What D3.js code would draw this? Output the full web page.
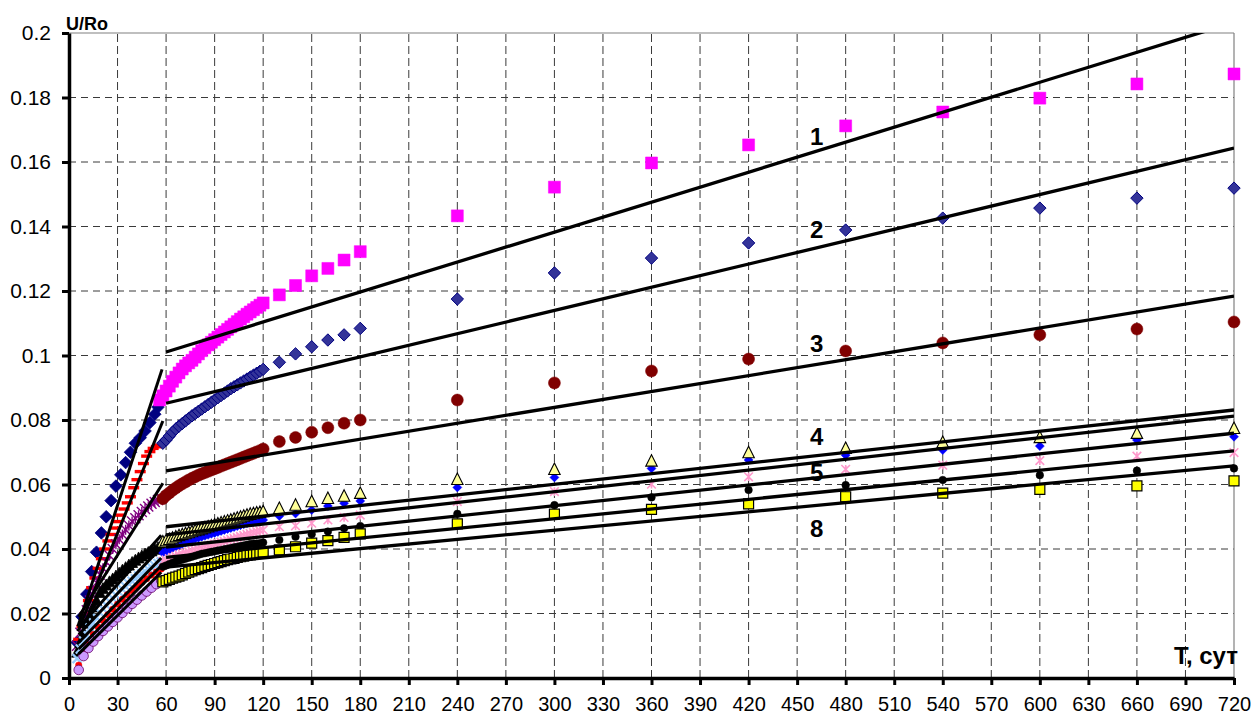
<!DOCTYPE html>
<html>
<head>
<meta charset="utf-8">
<script src="https://cdn.jsdelivr.net/npm/d3@7/dist/d3.min.js"></script>
<style>
  html, body { margin: 0; padding: 0; background: #fff; }
  svg text { font-family: "Liberation Sans", Arial, sans-serif; fill: #000; }
</style>
</head>
<body>
<svg id="chart" width="1254" height="716"></svg>
<script>
// ---- axis ticks ----
const xTicks = d3.range(0, 721, 30);
const yTicks = [0, 0.02, 0.04, 0.06, 0.08, 0.1, 0.12, 0.14, 0.16, 0.18, 0.2];
const yTickLabels = ["0", "0.02", "0.04", "0.06", "0.08", "0.1", "0.12", "0.14", "0.16", "0.18", "0.2"];

// ---- measurement days ----
const daysDenseM = [56,58,60,62,64,66,68,70,72,74,76,78,80,82,84,86,88,90,92,94,96,98,100,102,104,106,108,110,112,114,116,118,120];
const daysDense = [58,60,62,64,66,68,70,72,74,76,78,80,82,84,86,88,90,92,94,96,98,100,102,104,106,108,110,112,114,116,118,120];
const daysSparse = [130,140,150,160,170,180,240,300,360,420,480,540,600,660,720];
const daysEarly3 = [5,8,11,14,17,20,23,26,29,32,35,38,41,44,47,50,53,55];
const daysEarlyEven = [6,8,10,12,14,16,18,20,22,24,26,28,30,32,34,36,38,40,42,44,46,48,50,52,54,56];
const daysEarlyOdd = [5,7,9,11,13,15,17,19,21,23,25,27,29,31,33,35,37,39,41,43,45,47,49,51,53,55,57];
const daysEarlyStep3 = [6,9,12,15,18,21,24,27,30,33,36,39,42,45,48,51,54,57];

// ---- early stage U/Ro ----
const earlyNavy = [0.011,0.019,0.026,0.033,0.039,0.045,0.050,0.055,0.0595,0.063,0.0668,0.0700,0.0728,0.0745,0.0766,0.0792,0.0818,0.0840];
const earlyRed = [0.012,0.016,0.020,0.024,0.028,0.031,0.034,0.037,0.040,0.0425,0.0445,0.0465,0.0485,0.0505,0.0524,0.0543,0.0562,0.0590,0.0615,0.0640,0.0665,0.0688,0.0702,0.0712,0.0717,0.0722];
const earlyPurple = [0.010,0.014,0.018,0.021,0.024,0.027,0.0295,0.032,0.034,0.036,0.038,0.040,0.0415,0.043,0.0445,0.046,0.0473,0.0485,0.0495,0.0505,0.0515,0.0524,0.0532,0.0540,0.0546,0.0552,0.0557];
const earlyBlack = [0.008,0.011,0.014,0.017,0.0195,0.022,0.024,0.0265,0.0277,0.0288,0.0298,0.0307,0.0316,0.0325,0.0334,0.0342,0.0350,0.0358,0.0365,0.0372,0.0378,0.0384,0.0389,0.0394,0.0399,0.0404,0.0410];
const earlySky = [0.006,0.009,0.0115,0.0135,0.0155,0.0172,0.0188,0.0203,0.0215,0.0226,0.0237,0.0247,0.0257,0.0266,0.0275,0.0284,0.0292,0.0300,0.0308,0.0316,0.0323,0.0330,0.0337,0.0343,0.0349,0.0355,0.0360];
const earlyRedDot = [0.004,0.008,0.011,0.0135,0.0158,0.0178,0.0196,0.0213,0.0229,0.0244,0.0258,0.0271,0.0284,0.0296,0.0308,0.0319,0.0329,0.0338];
const earlyLilac = [0.0025,0.0068,0.0093,0.0113,0.0130,0.0146,0.0160,0.0174,0.0188,0.0202,0.0216,0.0230,0.0243,0.0256,0.0268,0.0280,0.0291,0.0302];

// ---- late stage U/Ro (dense part, then sparse part) ----
const late1 = [0.0862,0.0875,0.0890,0.0905,0.0920,0.0933,0.0946,0.0958,0.0968,0.0977,0.0985,0.0995,0.1005,0.1015,0.1024,0.1033,0.1041,0.1049,0.1057,0.1065,0.1073,0.1081,0.1089,0.1097,0.1105,0.1113,0.1120,0.1128,0.1135,0.1142,0.1149,0.1156,0.1163,
               0.1188,0.1217,0.1247,0.1270,0.1296,0.1322,0.1433,0.1522,0.1597,0.1653,0.1712,0.1755,0.1798,0.1842,0.1873];
const late2 = [0.0728,0.0738,0.0750,0.0762,0.0772,0.0781,0.0789,0.0797,0.0805,0.0813,0.0820,0.0827,0.0834,0.0841,0.0848,0.0855,0.0862,0.0869,0.0876,0.0883,0.0890,0.0897,0.0903,0.0909,0.0915,0.0921,0.0927,0.0933,0.0939,0.0945,0.0951,0.0957,
               0.0979,0.1005,0.1027,0.1048,0.1064,0.1084,0.1175,0.1256,0.1302,0.1349,0.1389,0.1426,0.1457,0.1488,0.1519];
const late3 = [0.0556,0.0566,0.0574,0.0582,0.0589,0.0596,0.0602,0.0608,0.0614,0.0619,0.0624,0.0629,0.0633,0.0637,0.0641,0.0645,0.0649,0.0653,0.0657,0.0661,0.0665,0.0669,0.0673,0.0677,0.0681,0.0685,0.0689,0.0693,0.0697,0.0701,0.0705,0.0710,
               0.0733,0.0746,0.0762,0.0776,0.0790,0.0800,0.0862,0.0915,0.0952,0.0989,0.1014,0.1039,0.1064,0.1082,0.1104];
const late4 = [0.0422,0.0426,0.0430,0.0434,0.0438,0.0442,0.0445,0.0448,0.0451,0.0454,0.0457,0.0460,0.0463,0.0466,0.0469,0.0472,0.0475,0.0478,0.0481,0.0484,0.0487,0.0490,0.0493,0.0496,0.0499,0.0502,0.0505,0.0508,0.0510,0.0512,0.0514,0.0516,
               0.0526,0.0536,0.0547,0.0557,0.0564,0.0573,0.0616,0.0647,0.0673,0.0699,0.0712,0.0731,0.0746,0.0759,0.0774];
const late5 = [0.0388,0.0393,0.0398,0.0403,0.0408,0.0412,0.0416,0.0420,0.0424,0.0428,0.0432,0.0435,0.0438,0.0441,0.0444,0.0447,0.0450,0.0453,0.0456,0.0459,0.0462,0.0465,0.0468,0.0471,0.0474,0.0477,0.0480,0.0482,0.0484,0.0486,0.0488,0.0490,
               0.0502,0.0510,0.0521,0.0533,0.0542,0.0549,0.0591,0.0622,0.0650,0.0676,0.0691,0.0707,0.0719,0.0738,0.0748];
const late6 = [0.0362,0.0366,0.0370,0.0374,0.0378,0.0382,0.0385,0.0388,0.0391,0.0394,0.0397,0.0400,0.0403,0.0406,0.0409,0.0412,0.0415,0.0418,0.0421,0.0424,0.0427,0.0430,0.0433,0.0436,0.0439,0.0442,0.0445,0.0448,0.0451,0.0454,0.0457,0.0459,
               0.0469,0.0472,0.0480,0.0490,0.0498,0.0505,0.0547,0.0578,0.0601,0.0624,0.0647,0.0660,0.0674,0.0688,0.0699];
const late7 = [0.0345,0.0349,0.0353,0.0357,0.0361,0.0364,0.0367,0.0370,0.0373,0.0376,0.0379,0.0382,0.0385,0.0387,0.0389,0.0391,0.0393,0.0395,0.0397,0.0399,0.0401,0.0403,0.0405,0.0407,0.0409,0.0411,0.0413,0.0415,0.0416,0.0417,0.0418,0.0420,
               0.0428,0.0438,0.0446,0.0454,0.0464,0.0471,0.0509,0.0536,0.0560,0.0583,0.0598,0.0614,0.0629,0.0643,0.0650];
const late8 = [0.0298,0.0302,0.0306,0.0310,0.0313,0.0316,0.0320,0.0324,0.0328,0.0332,0.0336,0.0339,0.0342,0.0346,0.0349,0.0352,0.0355,0.0358,0.0361,0.0364,0.0367,0.0369,0.0371,0.0374,0.0376,0.0378,0.0380,0.0382,0.0384,0.0386,0.0388,0.0390,
               0.0397,0.0407,0.0418,0.0426,0.0436,0.0447,0.0478,0.0508,0.0523,0.0540,0.0562,0.0573,0.0585,0.0596,0.0611];

// ---- straight-line approximations: [day start, day end] and [value start, value end] ----
const earlyFitDays = [[5.5,57.5],[5.5,58],[6,58],[6,57],[6,57],[6,57],[6,57],[6,57]];
const earlyFitVals = [[0.0160,0.0957],[0.0145,0.0797],[0.0190,0.0604],[0.0155,0.0443],[0.0135,0.0405],[0.0110,0.0372],[0.0090,0.0348],[0.0075,0.0328]];
const lateFitDays = [60, 720];
const lateFitVals = [[0.1011,0.2033],[0.0852,0.1643],[0.0642,0.1184],[0.0469,0.0831],[0.0444,0.0812],[0.0406,0.0759],[0.0374,0.0704],[0.0344,0.0658]];

// ---- curve numbers ----
const curveNames = ["1", "2", "3", "4", "5", "8"];
const curveNameDay = [458, 458, 458, 458, 458, 458];
const curveNameVal = [0.1653, 0.1364, 0.1011, 0.0722, 0.0611, 0.0437];

// ---------------------------------------------------------------
const svg = d3.select("#chart");
const x = d3.scaleLinear().domain([0, 720]).range([69, 1234]);
const y = d3.scaleLinear().domain([0, 0.2]).range([678, 33]);

svg.append("rect").attr("width", 1254).attr("height", 716).attr("fill", "#fff");

svg.append("defs").append("clipPath").attr("id", "plot")
  .append("rect").attr("x", x(0)).attr("y", y(0.2)).attr("width", x(720) - x(0)).attr("height", y(0) - y(0.2));

// grid
const grid = svg.append("g");
grid.selectAll("line.v").data(xTicks.filter(d => d > 0 && d < 720)).join("line")
  .attr("x1", d => x(d)).attr("x2", d => x(d)).attr("y1", y(0)).attr("y2", y(0.2))
  .attr("stroke", "#3a3a3a").attr("stroke-width", 1).attr("stroke-dasharray", "8,4");
grid.selectAll("line.h").data(yTicks.filter(d => d > 0 && d < 0.2)).join("line")
  .attr("x1", x(0)).attr("x2", x(720)).attr("y1", d => y(d)).attr("y2", d => y(d))
  .attr("stroke", "#3a3a3a").attr("stroke-width", 1).attr("stroke-dasharray", "7,5");
grid.append("line").attr("x1", x(0)).attr("x2", x(720)).attr("y1", y(0.2)).attr("y2", y(0.2))
  .attr("stroke", "#808080").attr("stroke-width", 1.2);
grid.append("line").attr("x1", x(720)).attr("x2", x(720)).attr("y1", y(0)).attr("y2", y(0.2))
  .attr("stroke", "#808080").attr("stroke-width", 1.2);

// marker shapes
const shapes = {
  diamond: r => `M0,${-r}L${r},0L0,${r}L${-r},0Z`,
  square: s => `M${-s/2},${-s/2}h${s}v${s}h${-s}Z`,
  triangle: w => `M0,${-w*0.55}L${w/2},${w*0.45}L${-w/2},${w*0.45}Z`,
  circle: r => `M${r},0A${r},${r} 0 1,1 ${-r},0A${r},${r} 0 1,1 ${r},0Z`,
  asterisk: r => `M${-r},${-r}L${r},${r}M${-r},${r}L${r},${-r}M0,${-r}L0,${r}`,
  cross: r => `M${-r},${-r}L${r},${r}M${-r},${r}L${r},${-r}`,
  dash: w => `M${-w/2},-1.7h${w}v3.4h${-w}Z`
};

const series = [
  { days: daysEarly3, vals: earlyNavy, shape: "diamond", size: 6.3, fill: "#000080", stroke: "#000080", sw: 0.8 },
  { days: daysEarlyEven, vals: earlyRed, shape: "dash", size: 11, fill: "#ff0000", stroke: "none", sw: 0 },
  { days: daysEarlyOdd, vals: earlyPurple, shape: "asterisk", size: 5, fill: "none", stroke: "#800080", sw: 1.4 },
  { days: daysEarlyOdd, vals: earlyBlack, shape: "triangle", size: 11, fill: "#000", stroke: "#000", sw: 0.8 },
  { days: daysEarlyOdd, vals: earlySky, shape: "cross", size: 4.5, fill: "none", stroke: "#99ccff", sw: 2.2 },
  { days: daysEarlyStep3, vals: earlyRedDot, shape: "circle", size: 3.2, fill: "#ff0000", stroke: "#ff0000", sw: 0.5 },
  { days: daysEarlyStep3, vals: earlyLilac, shape: "circle", size: 4.8, fill: "#cc99ff", stroke: "#660066", sw: 0.8 },
  { days: daysDenseM.concat(daysSparse), vals: late1, shape: "square", size: 12, fill: "#ff00ff", stroke: "#ff00ff", sw: 0.5 },
  { days: daysDense.concat(daysSparse), vals: late2, shape: "diamond", size: 6.2, fill: "#333399", stroke: "#000080", sw: 1 },
  { days: daysDense.concat(daysSparse), vals: late3, shape: "circle", size: 6, fill: "#800000", stroke: "#800000", sw: 0.5 },
  { days: daysDense.concat(daysSparse), vals: late5, shape: "diamond", size: 4.5, fill: "#0000ff", stroke: "#0000ff", sw: 0.5 },
  { days: daysDense.concat(daysSparse), vals: late4, shape: "triangle", size: 11.5, fill: "#ffff99", stroke: "#000", sw: 1.1 },
  { days: daysDense.concat(daysSparse), vals: late6, shape: "asterisk", size: 4.3, fill: "none", stroke: "#ff99cc", sw: 1.6 },
  { days: daysDense.concat(daysSparse), vals: late7, shape: "circle", size: 3.8, fill: "#000", stroke: "#000", sw: 0.5 },
  { days: daysDense.concat(daysSparse), vals: late8, shape: "square", size: 10, fill: "#ffff00", stroke: "#000", sw: 1.2 }
];

const marks = svg.append("g");
series.forEach(s => {
  const pts = s.days.map((d, i) => [d, s.vals[i]]);
  marks.append("g").selectAll("path").data(pts).join("path")
    .attr("transform", p => `translate(${x(p[0])},${y(p[1])})`)
    .attr("d", shapes[s.shape](s.size))
    .attr("fill", s.fill).attr("stroke", s.stroke).attr("stroke-width", s.sw);
});

// fitted straight lines
const fits = svg.append("g").attr("clip-path", "url(#plot)");
const lineGen = d3.line().x(p => x(p[0])).y(p => y(p[1]));
earlyFitDays.forEach((dd, i) => {
  fits.append("path").attr("d", lineGen([[dd[0], earlyFitVals[i][0]], [dd[1], earlyFitVals[i][1]]]))
    .attr("stroke", "#000").attr("stroke-width", 3).attr("fill", "none");
});
lateFitVals.forEach(v => {
  fits.append("path").attr("d", lineGen([[lateFitDays[0], v[0]], [lateFitDays[1], v[1]]]))
    .attr("stroke", "#000").attr("stroke-width", 3.3).attr("fill", "none");
});

// axes
const yAxis = d3.axisLeft(y).tickValues(yTicks).tickSizeInner(7).tickSizeOuter(0).tickPadding(11)
  .tickFormat((d, i) => yTickLabels[i]);
const gy = svg.append("g").attr("transform", `translate(${x(0)},0)`).call(yAxis);
const xAxis = d3.axisBottom(x).tickValues(xTicks).tickSizeInner(7).tickSizeOuter(0).tickPadding(12);
const gx = svg.append("g").attr("transform", `translate(0,${y(0)})`).call(xAxis);
[gx, gy].forEach(g => {
  g.select(".domain").attr("stroke", "#000").attr("stroke-width", 3.5);
  g.selectAll(".tick line").attr("stroke", "#000").attr("stroke-width", 3);
  g.selectAll(".tick text").attr("font-family", "Liberation Sans, Arial, sans-serif").attr("fill", "#000");
});
gy.selectAll(".tick text").attr("font-size", 21);
gx.selectAll(".tick text").attr("font-size", 20);

// axis titles
svg.append("text").attr("x", 66).attr("y", 30).attr("font-size", 18).attr("font-weight", "bold").text("U/Ro");
svg.append("text").attr("x", 1238).attr("y", 664).attr("text-anchor", "end")
  .attr("font-size", 24).attr("font-weight", "bold").text("T, сут");

// curve numbers
svg.append("g").selectAll("text").data(curveNames).join("text")
  .attr("x", (d, i) => x(curveNameDay[i])).attr("y", (d, i) => y(curveNameVal[i]))
  .attr("font-size", 24).attr("font-weight", "bold").text(d => d);
</script>
</body>
</html>
